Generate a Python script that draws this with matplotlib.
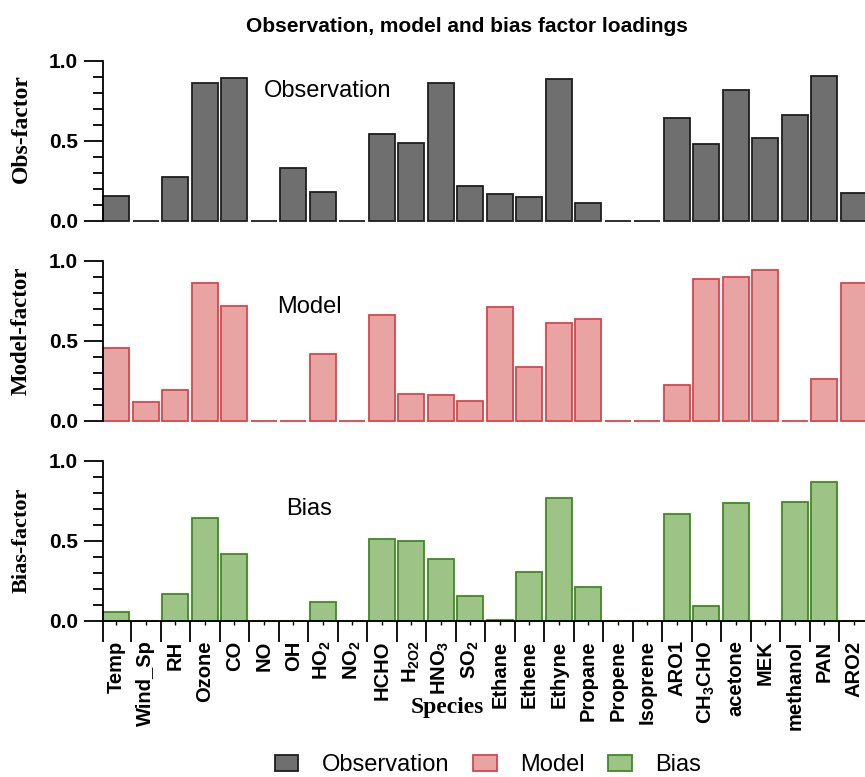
import matplotlib
matplotlib.use("Agg")
import matplotlib.pyplot as plt
import numpy as np
from matplotlib.patches import Patch

species = ["Temp", "Wind_Sp", "RH", "Ozone", "CO", "NO", "OH", "HO$_2$", "NO$_2$",
           "HCHO", "H$_{2O2}$", "HNO$_3$", "SO$_2$", "Ethane", "Ethene", "Ethyne",
           "Propane", "Propene", "Isoprene", "ARO1", "CH$_3$CHO", "acetone", "MEK",
           "methanol", "PAN", "ARO2"]

obs_factor = [0.156, 0.0, 0.277, 0.865, 0.896, 0.0, 0.331, 0.181, 0.0, 0.542,
              0.490, 0.865, 0.221, 0.167, 0.152, 0.885, 0.115, 0.0, 0.0, 0.644,
              0.483, 0.819, 0.519, 0.660, 0.906, 0.173]
model_factor = [0.458, 0.119, 0.194, 0.865, 0.719, 0.0, 0.0, 0.417, 0.0, 0.663,
                0.169, 0.160, 0.123, 0.715, 0.340, 0.613, 0.638, 0.0, 0.0, 0.227,
                0.885, 0.900, 0.944, 0.0, 0.260, 0.862]
bias_factor = [0.056, 0.0, 0.171, 0.644, 0.417, 0.0, 0.0, 0.117, 0.0, 0.510,
               0.500, 0.385, 0.158, 0.006, 0.308, 0.771, 0.212, 0.0, 0.0, 0.671,
               0.092, 0.738, 0.0, 0.744, 0.869, 0.0]

plt.rcParams["font.family"] = ["Liberation Sans", "DejaVu Sans"]
plt.rcParams["mathtext.default"] = "regular"

# values, fill, edge, y label, label size, panel name, name x, name y, label y
panels = [
    (obs_factor, "#6f6f6f", "#1e1e1e", "Obs-factor", 17, "Observation", 5.0, 0.81, 0.58),
    (model_factor, "#e8a3a3", "#d8444c", "Model-factor", 16.5, "Model", 5.45, 0.71, 0.562),
    (bias_factor, "#9dc486", "#3f8a22", "Bias-factor", 16, "Bias", 5.75, 0.70, 0.506),
]

W, H = 865, 777
fig = plt.figure(figsize=(W / 100, H / 100), dpi=100)
x = np.arange(len(species))
xl = (-0.45, 25.5)
left, right = 103, 868.5
bottoms = [221, 421, 621]

for k, (vals, fc, ec, ylab, lsize, name, tx, ty, ly) in enumerate(panels):
    ax = fig.add_axes([left / W, 1 - bottoms[k] / H, (right - left) / W, 160 / H])
    ax.bar(x, vals, width=0.87, color=fc, edgecolor=ec, linewidth=1.3, clip_on=False)
    ax.set_xlim(*xl)
    ax.set_ylim(0, 1.0)
    for s in ("top", "right"):
        ax.spines[s].set_visible(False)
    ax.spines["left"].set_linewidth(1.3)
    ax.set_yticks([0.0, 0.5, 1.0])
    ax.set_yticklabels(["0.0", "0.5", "1.0"], fontsize=15, fontweight="bold")
    ax.set_yticks(np.arange(0, 1.01, 0.1), minor=True)
    ax.tick_params(axis="y", which="major", length=14, width=1.3, pad=4)
    ax.tick_params(axis="y", which="minor", length=7, width=1.3)
    ax.set_ylabel(ylab, family="Liberation Serif", fontweight="bold", fontsize=lsize)
    ax.yaxis.set_label_coords(-0.093, ly)
    ax.text(tx, ty, name, fontsize=17, ha="left", va="center")
    if k < 2:
        ax.spines["bottom"].set_visible(False)
        ax.set_xticks([])
    else:
        ax.spines["bottom"].set_linewidth(1.3)
        ax.set_xticks(x)
        ax.set_xticklabels(species, rotation=90, fontsize=14.5, fontweight="bold")
        ax.set_xticks([xl[0]] + [i + 0.5 for i in range(25)], minor=True)
        ax.tick_params(axis="x", which="major", length=3, width=1.0, pad=11)
        ax.tick_params(axis="x", which="minor", length=15, width=1.3)

fig.text(467 / W, 1 - 26 / H, "Observation, model and bias factor loadings",
         fontsize=15, fontweight="bold", ha="center", va="center")
fig.text(447 / W, 1 - 707 / H, "Species", family="Liberation Serif",
         fontweight="bold", fontsize=17, ha="center", va="center")

handles = [Patch(facecolor=p[1], edgecolor=p[2], linewidth=1.3, label=p[5]) for p in panels]
fig.legend(handles=handles, loc="center", bbox_to_anchor=(488 / W, 1 - 765 / H),
           ncol=3, frameon=False, fontsize=17, handlelength=1.0, handleheight=0.65,
           handletextpad=1.0, columnspacing=1.0)

fig.savefig("out.png", dpi=100)
